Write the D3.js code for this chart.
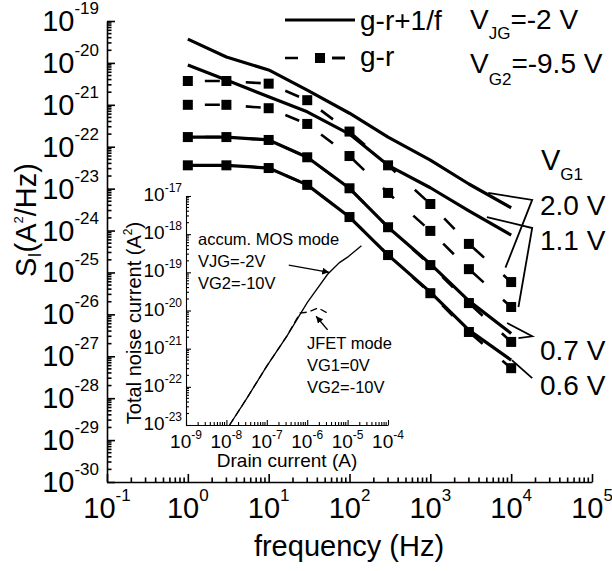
<!DOCTYPE html>
<html>
<head>
<meta charset="utf-8">
<script src="https://cdn.jsdelivr.net/npm/d3@7"></script>
<style>
  body { margin: 0; background: #fff; }
  svg { display: block; }
  text { font-family: "Liberation Sans", Arial, Helvetica, sans-serif; fill: #000; }
</style>
</head>
<body>
<svg id="chart" width="612" height="571"></svg>
<script>
// ---- Noise spectra S_I(f) for several back-gate voltages V_G1 ----
const freq = [1, 3, 10, 30, 100, 300, 1000, 3000, 10000];

// g-r + 1/f (total) spectra, A^2/Hz
const total20 = [3.7e-20, 1.38e-20, 6.8e-21, 2.24e-21, 6.3e-22, 1.7e-22, 4.8e-23, 1.29e-23, 3.5e-24];
const total11 = [8.9e-21, 3.9e-21, 1.55e-21, 6.8e-22, 2.0e-22, 3.6e-23, 1.05e-23, 2.95e-24, 7.8e-25];
const total07 = [1.7e-22, 1.7e-22, 1.45e-22, 5.6e-23, 1.02e-23, 1.2e-24, 1.6e-25, 2.1e-26, 3.5e-27];
const total06 = [3.6e-23, 3.6e-23, 3.1e-23, 1.23e-23, 2.1e-24, 2.6e-25, 3.4e-26, 4.2e-27, 8.1e-28];

// generation-recombination component only, A^2/Hz
const gr20 = [3.7e-21, 3.7e-21, 3.2e-21, 1.29e-21, 2.3e-22, 3.6e-23, 4.3e-24, 4.8e-25, 5.9e-26];
const gr11 = [1.0e-21, 1.0e-21, 8.3e-22, 3.5e-22, 6.0e-23, 7.9e-24, 9.8e-25, 1.2e-25, 1.5e-26];
const gr07 = [1.7e-22, 1.7e-22, 1.45e-22, 5.6e-23, 1.02e-23, 1.2e-24, 1.5e-25, 1.86e-26, 2.2e-27];
const gr06 = [3.6e-23, 3.6e-23, 3.1e-23, 1.23e-23, 2.1e-24, 2.6e-25, 3.2e-26, 3.8e-27, 5.2e-28];

const vg1Labels = ["2.0 V", "1.1 V", "0.7 V", "0.6 V"];

// axis ticks (exponents of ten)
const freqExp = [-1, 0, 1, 2, 3, 4, 5];
const sExp = [-30, -29, -28, -27, -26, -25, -24, -23, -22, -21, -20, -19];

// ---- Inset: total noise current vs drain current ----
const mosCurrent = [1.2e-8, 3.2e-8, 1e-7, 3.2e-7, 1e-6, 3.2e-6, 6.3e-6, 1e-5, 2.2e-5];
const mosNoise   = [1e-23, 5e-23, 3.5e-22, 2.2e-21, 1.6e-20, 8.9e-20, 1.8e-19, 2.5e-19, 5e-19];
const jfetCurrent = [1.2e-8, 3.2e-8, 1e-7, 3.2e-7, 6.6e-7, 1.05e-6, 1.86e-6, 3.2e-6];
const jfetNoise   = [1e-23, 5e-23, 3.5e-22, 2.2e-21, 8.5e-21, 9.1e-21, 1.17e-20, 8.5e-21];
const idExp = [-9, -8, -7, -6, -5, -4];
const noiseExp = [-23, -22, -21, -20, -19, -18, -17];

// leader lines from the V_G1 labels to their curves, in (Hz, A^2/Hz)
const leaders = [
  [[5.2e3, 7.9e-24], [1.82e4, 5.4e-24], [8.5e3, 1.3e-25]],
  [[5.0e3, 2.1e-24], [1.82e4, 1.15e-24], [1.23e4, 1.5e-26]],
  [[8.9e3, 6.2e-27], [1.82e4, 3.0e-27], [1.23e4, 2.7e-27]],
  [[1.02e4, 8.1e-28], [1.82e4, 3.0e-28]]
];

const svg = d3.select("#chart");
svg.append("rect").attr("width", 612).attr("height", 571).attr("fill", "#fff");

// ---------- main scales ----------
const x = d3.scaleLog().domain([1e-1, 1e5]).range([107, 592]);
const y = d3.scaleLog().domain([1e-30, 1e-19]).range([482, 21]);

function minorValues(exps) {
  const out = [];
  for (let i = 0; i < exps.length - 1; i++)
    for (let m = 2; m <= 9; m++) out.push(m * Math.pow(10, exps[i]));
  return out;
}

// text like 10^e with the exponent raised
function powerLabel(sel, exp, baseSize, supSize, raise) {
  sel.append("tspan").attr("font-size", baseSize).text("10");
  sel.append("tspan").attr("font-size", supSize).attr("dy", -raise).text(exp);
}

function drawAxes(g, xs, ys, xe, ye, opt) {
  const [x0] = xs.range();
  const [y0] = ys.range();
  // bottom axis
  const bx = g.append("g").attr("transform", `translate(0,${y0})`)
    .call(d3.axisBottom(xs).tickValues(xe.map(e => Math.pow(10, e)))
      .tickSize(-opt.major).tickSizeOuter(0).tickFormat(""));
  bx.selectAll("line").attr("stroke-width", opt.lw);
  bx.select(".domain").attr("stroke-width", opt.lw);
  bx.selectAll(".minor").data(minorValues(xe)).join("line").attr("class", "minor")
    .attr("x1", d => xs(d)).attr("x2", d => xs(d)).attr("y1", 0).attr("y2", -opt.minor)
    .attr("stroke", "#000").attr("stroke-width", opt.lw);
  // left axis
  const by = g.append("g").attr("transform", `translate(${x0},0)`)
    .call(d3.axisLeft(ys).tickValues(ye.map(e => Math.pow(10, e)))
      .tickSize(-opt.major).tickSizeOuter(0).tickFormat(""));
  by.selectAll("line").attr("stroke-width", opt.lw);
  by.select(".domain").attr("stroke-width", opt.lw);
  by.selectAll(".minor").data(minorValues(ye)).join("line").attr("class", "minor")
    .attr("y1", d => ys(d)).attr("y2", d => ys(d)).attr("x1", 0).attr("x2", opt.minor)
    .attr("stroke", "#000").attr("stroke-width", opt.lw);

  // tick labels
  g.append("g").selectAll("text").data(xe).join("text")
    .attr("x", e => xs(Math.pow(10, e))).attr("y", opt.xLabelY)
    .attr("text-anchor", "middle")
    .each(function (e) { powerLabel(d3.select(this), e, opt.fs, opt.sfs, opt.raise); });
  g.append("g").selectAll("text").data(ye).join("text")
    .attr("x", x0 - opt.yLabelGap).attr("y", e => ys(Math.pow(10, e)) + opt.yLabelDy)
    .attr("text-anchor", "end")
    .each(function (e) { powerLabel(d3.select(this), e, opt.fs, opt.sfs, opt.raise); });
}

drawAxes(svg.append("g"), x, y, freqExp, sExp,
  { major: 8, minor: 4.5, lw: 1.6, fs: 29, sfs: 17, raise: 17, xLabelY: 518, yLabelGap: 8, yLabelDy: 10 });

// axis titles
svg.append("text").attr("x", 349).attr("y", 556).attr("text-anchor", "middle")
  .attr("font-size", 29).text("frequency (Hz)");
const yt = svg.append("text").attr("transform", "translate(36,220) rotate(-90)")
  .attr("text-anchor", "middle").attr("font-size", 29);
yt.append("tspan").text("S");
yt.append("tspan").attr("font-size", 18).attr("dy", 5).text("I");
yt.append("tspan").attr("dy", -5).text("(A");
yt.append("tspan").attr("font-size", 13).attr("dy", -13).text("2");
yt.append("tspan").attr("dy", 13).text("/Hz)");

// ---------- spectra ----------
const line = d3.line().x(d => x(d[0])).y(d => y(d[1]));
const pairs = v => freq.map((f, i) => [f, v[i]]);
const totals = [total20, total11, total07, total06];
const grs = [gr20, gr11, gr07, gr06];

svg.append("g").selectAll("path").data(totals).join("path")
  .attr("d", v => line(pairs(v)))
  .attr("fill", "none").attr("stroke", "#000").attr("stroke-width", 3.2)
  .attr("stroke-linejoin", "round");
svg.append("g").selectAll("path").data(grs).join("path")
  .attr("d", v => line(pairs(v)))
  .attr("fill", "none").attr("stroke", "#000").attr("stroke-width", 2.6)
  .attr("stroke-dasharray", "15,26").attr("stroke-dashoffset", 24);
svg.append("g").selectAll("rect").data(grs.flatMap(pairs)).join("rect")
  .attr("x", d => x(d[0]) - 5).attr("y", d => y(d[1]) - 5)
  .attr("width", 10).attr("height", 10).attr("fill", "#000");

// leaders and V_G1 labels
svg.append("g").selectAll("path").data(leaders).join("path")
  .attr("d", d => line(d)).attr("fill", "none").attr("stroke", "#000").attr("stroke-width", 1.8);
const vgY = [215, 250, 360, 395];
svg.append("g").selectAll("text").data(vg1Labels).join("text")
  .attr("x", 540).attr("y", (d, i) => vgY[i]).attr("font-size", 28).text(d => d);
const vg1 = svg.append("text").attr("x", 541).attr("y", 170).attr("font-size", 29);
vg1.append("tspan").text("V");
vg1.append("tspan").attr("font-size", 17).attr("dy", 10).text("G1");

// bias conditions
const vjg = svg.append("text").attr("x", 470).attr("y", 29).attr("font-size", 28);
vjg.append("tspan").text("V");
vjg.append("tspan").attr("font-size", 17).attr("dy", 10).text("JG");
vjg.append("tspan").attr("dy", -10).text("=-2 V");
const vg2 = svg.append("text").attr("x", 470).attr("y", 73).attr("font-size", 28);
vg2.append("tspan").text("V");
vg2.append("tspan").attr("font-size", 17).attr("dy", 12).text("G2");
vg2.append("tspan").attr("dy", -12).text("=-9.5 V");

// legend
const lg = svg.append("g");
lg.append("line").attr("x1", 285).attr("x2", 355).attr("y1", 20).attr("y2", 20)
  .attr("stroke", "#000").attr("stroke-width", 3.2);
lg.append("text").attr("x", 360).attr("y", 30).attr("font-size", 28).text("g-r+1/f");
lg.append("line").attr("x1", 285).attr("x2", 345).attr("y1", 58).attr("y2", 58)
  .attr("stroke", "#000").attr("stroke-width", 2.6).attr("stroke-dasharray", "13,34");
lg.append("line").attr("x1", 332).attr("x2", 345).attr("y1", 58).attr("y2", 58)
  .attr("stroke", "#000").attr("stroke-width", 2.6);
lg.append("rect").attr("x", 315).attr("y", 53).attr("width", 10).attr("height", 10).attr("fill", "#000");
lg.append("text").attr("x", 360).attr("y", 66).attr("font-size", 28).text("g-r");

// ---------- inset ----------
const ix = d3.scaleLog().domain([1e-9, 1e-4]).range([186, 388]);
const iy = d3.scaleLog().domain([1e-23, 1e-17]).range([425, 196]);
drawAxes(svg.append("g"), ix, iy, idExp, noiseExp,
  { major: 5, minor: 3, lw: 1.1, fs: 19, sfs: 12, raise: 9, xLabelY: 448, yLabelGap: 4, yLabelDy: 5 });

svg.append("text").attr("x", 287).attr("y", 467).attr("text-anchor", "middle")
  .attr("font-size", 19).text("Drain current (A)");
const iyt = svg.append("text").attr("transform", "translate(141,323) rotate(-90)")
  .attr("text-anchor", "middle").attr("font-size", 20);
iyt.append("tspan").text("Total noise current (A");
iyt.append("tspan").attr("font-size", 12).attr("dy", -9).text("2");
iyt.append("tspan").attr("dy", 9).text(")");

const iline = d3.line().x(d => ix(d[0])).y(d => iy(d[1]));
svg.append("path").attr("d", iline(mosCurrent.map((c, i) => [c, mosNoise[i]])))
  .attr("fill", "none").attr("stroke", "#000").attr("stroke-width", 1.3);
svg.append("path").attr("d", iline(jfetCurrent.map((c, i) => [c, jfetNoise[i]])))
  .attr("fill", "none").attr("stroke", "#000").attr("stroke-width", 1.3)
  .attr("stroke-dasharray", "7,4");

// annotation arrows
svg.append("defs").append("marker").attr("id", "head")
  .attr("viewBox", "0 0 10 10").attr("refX", 10).attr("refY", 5)
  .attr("markerWidth", 7).attr("markerHeight", 7).attr("orient", "auto")
  .attr("markerUnits", "userSpaceOnUse")
  .append("path").attr("d", "M0,0L10,5L0,10z").attr("fill", "#000");
const arrows = [
  [[3.5e-7, 1.55e-19], [3.5e-6, 1.0e-19]],
  [[3.2e-6, 3.1e-21], [1.66e-6, 7.1e-21]]
];
svg.append("g").selectAll("path").data(arrows).join("path")
  .attr("d", d => iline(d)).attr("stroke", "#000").attr("stroke-width", 1.4)
  .attr("fill", "none").attr("marker-end", "url(#head)");

const notes = [
  { x: 198, y: 245, t: "accum. MOS mode" }, { x: 198, y: 267, t: "VJG=-2V" }, { x: 198, y: 289, t: "VG2=-10V" },
  { x: 307, y: 349, t: "JFET mode" }, { x: 307, y: 371, t: "VG1=0V" }, { x: 307, y: 393, t: "VG2=-10V" }
];
svg.append("g").selectAll("text").data(notes).join("text")
  .attr("x", d => d.x).attr("y", d => d.y).attr("font-size", 16.5).text(d => d.t);
</script>
</body>
</html>
